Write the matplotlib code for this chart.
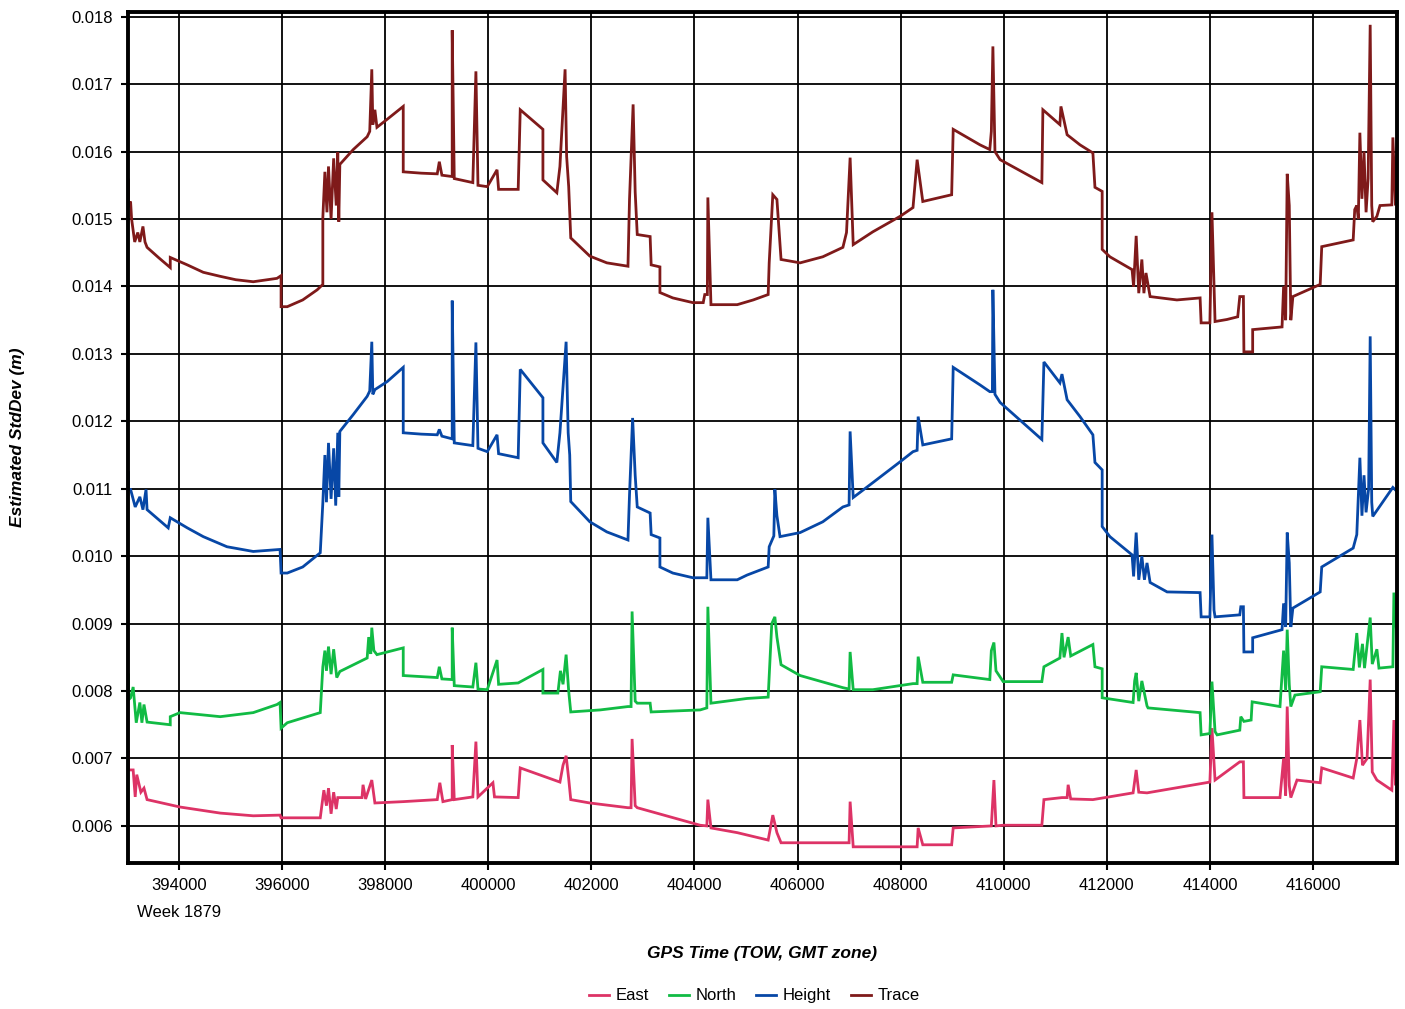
import matplotlib
matplotlib.use("Agg")
import matplotlib.pyplot as plt
from matplotlib.transforms import blended_transform_factory

# (GPS time of week [s], estimated std dev [m])
east_pts = [
    (393020, 0.00710), (393020, 0.00683), (393110, 0.00683), (393150, 0.00643), (393180, 0.00676),
    (393260, 0.00650), (393320, 0.00656), (393380, 0.00639), (394020, 0.00628), (394800, 0.00619),
    (395440, 0.00615), (395960, 0.00616), (395980, 0.00612), (396740, 0.00612), (396810, 0.00653),
    (396860, 0.00630), (396900, 0.00656), (396950, 0.00618), (397000, 0.00650), (397050, 0.00625),
    (397080, 0.00642), (397550, 0.00642), (397570, 0.00661), (397620, 0.00640), (397740, 0.00668),
    (397800, 0.00634), (398350, 0.00636), (399010, 0.00639), (399060, 0.00664), (399120, 0.00636),
    (399300, 0.00639), (399300, 0.00720), (399340, 0.00639), (399700, 0.00643), (399760, 0.00725),
    (399800, 0.00643), (400090, 0.00664), (400120, 0.00643), (400580, 0.00642), (400620, 0.00686),
    (401390, 0.00665), (401450, 0.00690), (401510, 0.00704), (401560, 0.00670), (401600, 0.00639),
    (401970, 0.00634), (402710, 0.00627), (402770, 0.00627), (402790, 0.00729), (402850, 0.00630),
    (402890, 0.00627), (404110, 0.00601), (404240, 0.00600), (404260, 0.00639), (404320, 0.00597),
    (404830, 0.00590), (405430, 0.00579), (405520, 0.00616), (405600, 0.00590), (405680, 0.00575),
    (406820, 0.00575), (407000, 0.00575), (407020, 0.00636), (407080, 0.00569), (408180, 0.00569),
    (408320, 0.00569), (408340, 0.00597), (408430, 0.00572), (408990, 0.00572), (409020, 0.00597),
    (409760, 0.00600), (409810, 0.00668), (409850, 0.00600), (409990, 0.00601), (410740, 0.00601),
    (410780, 0.00639), (411130, 0.00642), (411230, 0.00642), (411250, 0.00661), (411300, 0.00640),
    (411730, 0.00639), (412510, 0.00649), (412570, 0.00683), (412620, 0.00650), (412780, 0.00649),
    (414000, 0.00665), (414040, 0.00745), (414100, 0.00668), (414580, 0.00695), (414650, 0.00695),
    (414660, 0.00642), (415360, 0.00642), (415430, 0.00700), (415470, 0.00645), (415500, 0.00777),
    (415540, 0.00660), (415570, 0.00642), (415690, 0.00668), (416140, 0.00664), (416170, 0.00686),
    (416780, 0.00671), (416850, 0.00700), (416910, 0.00757), (416960, 0.00690), (417050, 0.00700),
    (417110, 0.00817), (417150, 0.00680), (417240, 0.00668), (417530, 0.00653), (417570, 0.00757),
    (417600, 0.00660), (417630, 0.00775),
]

north_pts = [
    (393020, 0.00824), (393020, 0.00787), (393060, 0.00790), (393110, 0.00806), (393170, 0.00753),
    (393240, 0.00783), (393280, 0.00753), (393320, 0.00780), (393380, 0.00754), (393830, 0.00750),
    (393830, 0.00762), (394020, 0.00768), (394800, 0.00762), (395440, 0.00768), (395900, 0.00780),
    (395960, 0.00783), (395980, 0.00745), (396100, 0.00753), (396740, 0.00768), (396790, 0.00836),
    (396830, 0.00860), (396860, 0.00830), (396900, 0.00866), (396950, 0.00825), (397000, 0.00862),
    (397060, 0.00820), (397120, 0.00829), (397650, 0.00849), (397680, 0.00880), (397720, 0.00855),
    (397740, 0.00894), (397780, 0.00860), (397840, 0.00854), (398350, 0.00864), (398350, 0.00823),
    (399010, 0.00820), (399050, 0.00836), (399100, 0.00818), (399300, 0.00817), (399300, 0.00894),
    (399340, 0.00808), (399700, 0.00806), (399760, 0.00842), (399800, 0.00803), (399980, 0.00802),
    (400170, 0.00846), (400200, 0.00810), (400580, 0.00812), (401060, 0.00832), (401060, 0.00797),
    (401350, 0.00797), (401400, 0.00830), (401450, 0.00810), (401510, 0.00854), (401560, 0.00800),
    (401600, 0.00769), (402170, 0.00772), (402710, 0.00777), (402770, 0.00777), (402790, 0.00918),
    (402850, 0.00785), (402890, 0.00782), (403140, 0.00782), (403160, 0.00769), (404110, 0.00772),
    (404240, 0.00775), (404260, 0.00925), (404320, 0.00782), (405020, 0.00789), (405430, 0.00791),
    (405500, 0.00900), (405560, 0.00910), (405600, 0.00880), (405680, 0.00839), (406050, 0.00823),
    (406880, 0.00805), (407000, 0.00803), (407020, 0.00858), (407080, 0.00802), (407460, 0.00802),
    (408240, 0.00811), (408320, 0.00811), (408340, 0.00851), (408430, 0.00813), (408990, 0.00813),
    (409020, 0.00824), (409730, 0.00817), (409760, 0.00860), (409810, 0.00872), (409850, 0.00830),
    (409990, 0.00814), (410740, 0.00814), (410780, 0.00836), (411090, 0.00849), (411130, 0.00886),
    (411170, 0.00850), (411250, 0.00880), (411300, 0.00852), (411730, 0.00869), (411770, 0.00836),
    (411910, 0.00833), (411910, 0.00790), (412510, 0.00783), (412540, 0.00815), (412570, 0.00827),
    (412620, 0.00785), (412680, 0.00815), (412780, 0.00778), (412800, 0.00775), (413810, 0.00768),
    (413830, 0.00735), (414000, 0.00737), (414040, 0.00814), (414100, 0.00740), (414140, 0.00735),
    (414580, 0.00742), (414600, 0.00762), (414660, 0.00755), (414800, 0.00757), (414820, 0.00784),
    (415360, 0.00777), (415430, 0.00860), (415470, 0.00800), (415500, 0.00891), (415540, 0.00810),
    (415570, 0.00777), (415650, 0.00794), (416140, 0.00799), (416170, 0.00836), (416780, 0.00832),
    (416850, 0.00886), (416900, 0.00835), (416960, 0.00870), (417000, 0.00834), (417110, 0.00909),
    (417150, 0.00840), (417240, 0.00862), (417280, 0.00834), (417550, 0.00836), (417570, 0.00946),
    (417630, 0.00879),
]

height_pts = [
    (393020, 0.01124), (393020, 0.01099), (393060, 0.01099), (393150, 0.01073), (393240, 0.01088),
    (393300, 0.01069), (393360, 0.01099), (393380, 0.01069), (393790, 0.01042), (393830, 0.01057),
    (394160, 0.01042), (394470, 0.01029), (394930, 0.01014), (395440, 0.01007), (395960, 0.01010),
    (395980, 0.00975), (396100, 0.00975), (396400, 0.00984), (396740, 0.01005), (396790, 0.01079),
    (396830, 0.01150), (396860, 0.01080), (396900, 0.01168), (396950, 0.01085), (397000, 0.01160),
    (397040, 0.01075), (397080, 0.01183), (397100, 0.01088), (397120, 0.01185), (397380, 0.01210),
    (397650, 0.01237), (397700, 0.01245), (397740, 0.01318), (397760, 0.01240), (397800, 0.01247),
    (398040, 0.01259), (398350, 0.01280), (398350, 0.01183), (398700, 0.01181), (399010, 0.01180),
    (399050, 0.01188), (399100, 0.01178), (399300, 0.01174), (399300, 0.01379), (399340, 0.01168),
    (399700, 0.01164), (399760, 0.01317), (399800, 0.01160), (399980, 0.01155), (400170, 0.01180),
    (400200, 0.01152), (400580, 0.01146), (400620, 0.01277), (401060, 0.01235), (401060, 0.01168),
    (401330, 0.01139), (401390, 0.01183), (401510, 0.01318), (401550, 0.01183), (401580, 0.01150),
    (401600, 0.01081), (401970, 0.01051), (402300, 0.01036), (402710, 0.01024), (402740, 0.01091),
    (402800, 0.01205), (402850, 0.01120), (402890, 0.01073), (403140, 0.01064), (403160, 0.01032),
    (403330, 0.01027), (403330, 0.00984), (403580, 0.00975), (403970, 0.00968), (404240, 0.00968),
    (404260, 0.01057), (404320, 0.00965), (404830, 0.00965), (405020, 0.00972), (405430, 0.00984),
    (405450, 0.01014), (405540, 0.01030), (405560, 0.01099), (405600, 0.01060), (405660, 0.01029),
    (406050, 0.01035), (406490, 0.01051), (406880, 0.01073), (407000, 0.01076), (407020, 0.01185),
    (407080, 0.01087), (407460, 0.01109), (407990, 0.01140), (408240, 0.01155), (408320, 0.01157),
    (408340, 0.01207), (408430, 0.01165), (408990, 0.01174), (409020, 0.01280), (409540, 0.01254),
    (409730, 0.01244), (409780, 0.01244), (409790, 0.01395), (409830, 0.01240), (409930, 0.01228),
    (410740, 0.01173), (410780, 0.01288), (411090, 0.01257), (411130, 0.01270), (411230, 0.01232),
    (411480, 0.01207), (411730, 0.01180), (411770, 0.01139), (411910, 0.01128), (411910, 0.01044),
    (412060, 0.01029), (412490, 0.01002), (412520, 0.00970), (412570, 0.01035), (412620, 0.00965),
    (412680, 0.01000), (412730, 0.00965), (412780, 0.00990), (412840, 0.00961), (413170, 0.00947),
    (413810, 0.00946), (413830, 0.00910), (414000, 0.00910), (414040, 0.01032), (414080, 0.00920),
    (414100, 0.00910), (414580, 0.00913), (414600, 0.00925), (414650, 0.00925), (414660, 0.00858),
    (414830, 0.00858), (414830, 0.00879), (415400, 0.00891), (415430, 0.00930), (415470, 0.00895),
    (415500, 0.01035), (415540, 0.00990), (415570, 0.00895), (415610, 0.00923), (416140, 0.00947),
    (416170, 0.00984), (416780, 0.01012), (416850, 0.01032), (416910, 0.01146), (416950, 0.01060),
    (416990, 0.01120), (417030, 0.01065), (417080, 0.01100), (417110, 0.01326), (417140, 0.01080),
    (417160, 0.01059), (417550, 0.01102), (417630, 0.01096),
]

trace_pts = [
    (393020, 0.01558), (393020, 0.01518), (393060, 0.01526), (393080, 0.01500), (393140, 0.01466),
    (393200, 0.01480), (393240, 0.01466), (393300, 0.01489), (393340, 0.01466), (393380, 0.01458),
    (393600, 0.01443), (393830, 0.01428), (393830, 0.01443), (394160, 0.01432), (394470, 0.01421),
    (394800, 0.01415), (395100, 0.01410), (395440, 0.01407), (395900, 0.01412), (395980, 0.01416),
    (395980, 0.01370), (396100, 0.01370), (396400, 0.01380), (396680, 0.01395), (396790, 0.01403),
    (396790, 0.01502), (396830, 0.01570), (396870, 0.01510), (396900, 0.01578), (396950, 0.01500),
    (397000, 0.01590), (397050, 0.01520), (397080, 0.01599), (397100, 0.01496), (397120, 0.01581),
    (397380, 0.01603), (397650, 0.01622), (397700, 0.01630), (397740, 0.01722), (397760, 0.01640),
    (397800, 0.01662), (397840, 0.01636), (398040, 0.01648), (398350, 0.01667), (398350, 0.01570),
    (398700, 0.01568), (399010, 0.01567), (399050, 0.01585), (399100, 0.01565), (399300, 0.01563),
    (399300, 0.01780), (399340, 0.01560), (399700, 0.01554), (399760, 0.01719), (399800, 0.01550),
    (399980, 0.01548), (400170, 0.01573), (400200, 0.01544), (400580, 0.01544), (400620, 0.01662),
    (401060, 0.01633), (401060, 0.01558), (401330, 0.01539), (401390, 0.01578), (401490, 0.01722),
    (401520, 0.01593), (401560, 0.01548), (401600, 0.01472), (401970, 0.01445), (402300, 0.01435),
    (402710, 0.01430), (402740, 0.01529), (402810, 0.01670), (402850, 0.01540), (402890, 0.01477),
    (403140, 0.01474), (403160, 0.01432), (403330, 0.01429), (403330, 0.01391), (403580, 0.01383),
    (403970, 0.01376), (404170, 0.01376), (404200, 0.01388), (404250, 0.01388), (404260, 0.01532),
    (404320, 0.01373), (404830, 0.01373), (405140, 0.01380), (405430, 0.01388), (405450, 0.01435),
    (405520, 0.01536), (405600, 0.01529), (405680, 0.01440), (406050, 0.01435), (406490, 0.01444),
    (406880, 0.01458), (406950, 0.01480), (407020, 0.01591), (407080, 0.01462), (407460, 0.01481),
    (407990, 0.01504), (408240, 0.01517), (408320, 0.01588), (408430, 0.01526), (408990, 0.01536),
    (409020, 0.01633), (409540, 0.01610), (409730, 0.01603), (409760, 0.01630), (409790, 0.01756),
    (409830, 0.01600), (409930, 0.01588), (410740, 0.01554), (410760, 0.01662), (411090, 0.01640),
    (411110, 0.01667), (411230, 0.01625), (411480, 0.01610), (411730, 0.01598), (411770, 0.01547),
    (411910, 0.01541), (411910, 0.01455), (412060, 0.01444), (412490, 0.01425), (412520, 0.01400),
    (412570, 0.01475), (412620, 0.01390), (412680, 0.01440), (412720, 0.01390), (412760, 0.01420),
    (412840, 0.01385), (413360, 0.01380), (413810, 0.01383), (413830, 0.01346), (414000, 0.01346),
    (414040, 0.01510), (414080, 0.01400), (414100, 0.01348), (414330, 0.01351), (414540, 0.01355),
    (414580, 0.01385), (414650, 0.01385), (414660, 0.01303), (414830, 0.01303), (414830, 0.01336),
    (415400, 0.01340), (415430, 0.01400), (415470, 0.01350), (415500, 0.01567), (415540, 0.01520),
    (415570, 0.01350), (415610, 0.01385), (416140, 0.01403), (416170, 0.01459), (416780, 0.01469),
    (416810, 0.01514), (416850, 0.01520), (416880, 0.01500), (416910, 0.01628), (416950, 0.01530),
    (416990, 0.01600), (417030, 0.01510), (417070, 0.01560), (417110, 0.01788), (417140, 0.01520),
    (417160, 0.01496), (417240, 0.01504), (417300, 0.01520), (417530, 0.01521), (417550, 0.01621),
    (417600, 0.01520), (417630, 0.01605),
]

series_names = ["East", "North", "Height", "Trace"]
series_colors = ["#dd3366", "#11bb44", "#0747a6", "#7f1a1a"]
x_ticks = list(range(394000, 416001, 2000))
y_ticks = [0.006, 0.007, 0.008, 0.009, 0.010, 0.011, 0.012, 0.013, 0.014, 0.015, 0.016, 0.017, 0.018]
week_label = "Week 1879"

plt.rcParams["font.family"] = ["Liberation Sans", "DejaVu Sans"]

fig = plt.figure(figsize=(14.05, 10.09), dpi=100)
ax = fig.add_axes([0.0911, 0.1447, 0.9032, 0.8434])

for name, color, pts in zip(series_names, series_colors, [east_pts, north_pts, height_pts, trace_pts]):
    t = [p[0] for p in pts]
    v = [p[1] for p in pts]
    ax.plot(t, v, color=color, lw=2.0, label=name, solid_joinstyle="miter")

ax.set_xlim(393010, 417630)
ax.set_ylim(0.00545, 0.01807)
ax.set_xticks(x_ticks)
ax.set_xticklabels([str(x) for x in x_ticks])
ax.set_yticks(y_ticks)
ax.set_yticklabels([f"{y:.3f}" for y in y_ticks])
ax.tick_params(direction="out", length=5, width=1.5, labelsize=12, colors="black", pad=6)
ax.grid(True, color="black", lw=1.3)
ax.set_axisbelow(True)
for s in ax.spines.values():
    s.set_linewidth(2.8)

trans = blended_transform_factory(ax.transData, fig.transFigure)
ax.text(x_ticks[0], 0.096, week_label, transform=trans, ha="center", va="center", fontsize=12)

fig.text(0.542, 0.055, "GPS Time (TOW, GMT zone)", ha="center", va="center",
         fontsize=12.5, fontweight="bold", fontstyle="italic")
fig.text(0.0128, 0.567, "Estimated StdDev (m)", ha="center", va="center", rotation=90,
         fontsize=12.5, fontweight="bold", fontstyle="italic")

fig.legend(loc="center", bbox_to_anchor=(0.537, 0.013), ncol=4, frameon=False, fontsize=12,
           handlelength=1.2, handletextpad=0.4, columnspacing=1.2)

fig.savefig("out.png", dpi=100)
